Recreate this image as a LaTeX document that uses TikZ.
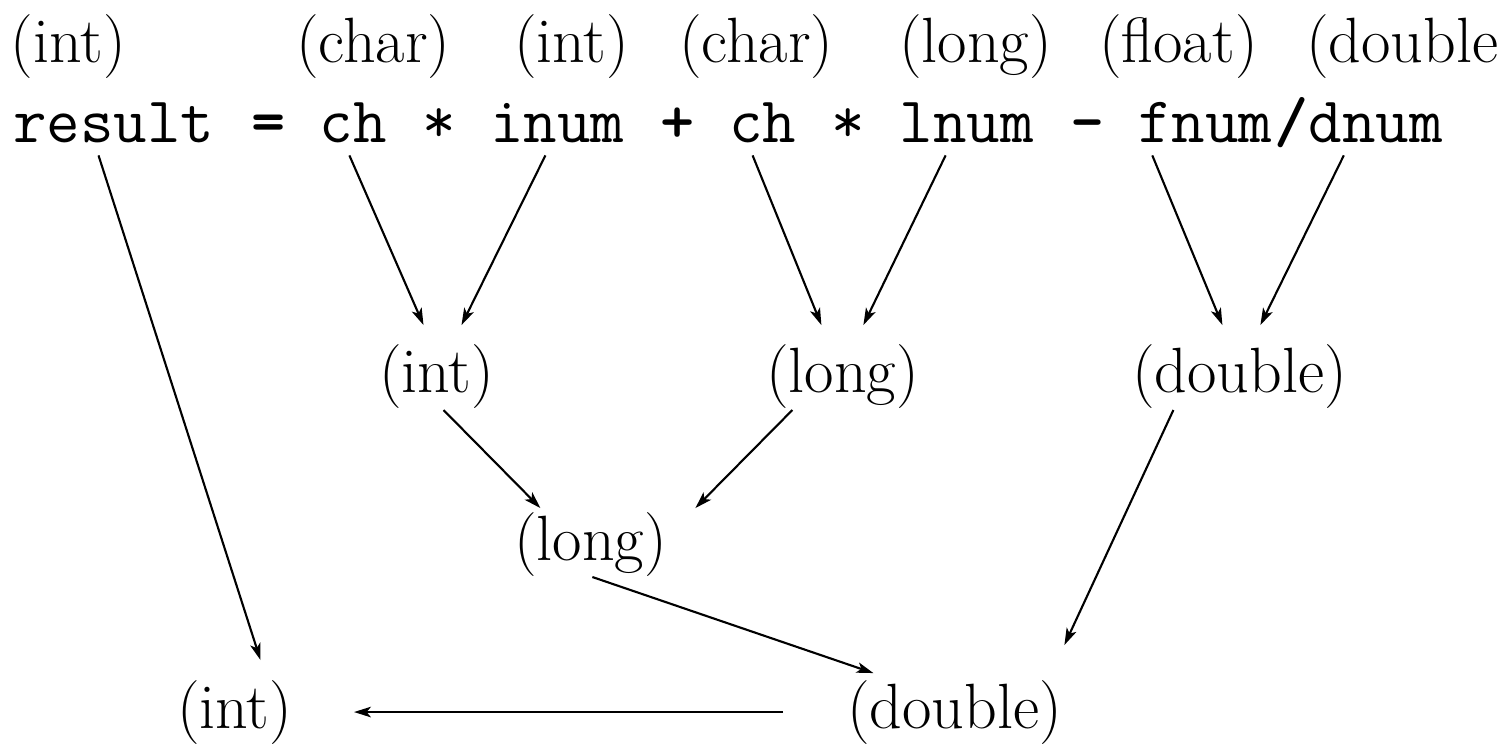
\documentclass[tikz,border=0pt]{standalone}
\usepackage{fontspec}
\usetikzlibrary{arrows.meta,calc}
\begin{document}
\begin{tikzpicture}[x=0.01cm,y=-0.01cm,
  lab/.style={inner sep=0pt, outer sep=0pt, anchor=base west, font=\fontsize{18.2pt}{20pt}\selectfont},
  tok/.style={inner sep=0pt, outer sep=0pt, anchor=base west, font=\ttfamily\fontsize{18.5pt}{20pt}\selectfont},
  optok/.style={tok, font=\ttfamily\bfseries\fontsize{18.5pt}{20pt}\selectfont},
  arr/.style={-{Stealth[length=4.8pt,width=3pt,inset=1.2pt]}, line width=0.6pt}]
\useasboundingbox (0,0) rectangle (1511,744);
% row 1 : type labels
\node[lab] (t1) at (11,62) {(int)};
\node[lab] (t2) at (296,62) {(char)};
\node[lab] (t3) at (514,62) {(int)};
\node[lab] (t4) at (679,62) {(char)};
\node[lab] (t5) at (899,62) {(long)};
\node[lab] (t6) at (1099,62) {(float)};
\node[lab] (t7) at (1306,62) {(double};
% row 2 : expression
\node[tok] (result) at (13,142) {result};
\node[optok] (eq) at (251.7,142) {=};
\node[tok] (ch1) at (319.9,142) {ch};
\node[tok] (mul1) at (422.2,142) {*};
\node[tok] (inum) at (490.4,142) {inum};
\node[optok] (plus) at (660.9,142) {+};
\node[tok] (ch2) at (729.1,142) {ch};
\node[tok] (mul2) at (831.4,142) {*};
\node[tok] (lnum) at (899.6,142) {lnum};
\node[optok] (minus) at (1070.1,142) {-};
\node[tok] (fnum) at (1138.3,142) {fnum};
\node[optok] (slash) at (1274.7,142) {/};
\node[tok] (dnum) at (1308.8,142) {dnum};
% intermediate types
\node[lab] (m1) at (379,392) {(int)};
\node[lab] (m2) at (766,392) {(long)};
\node[lab] (m3) at (1132,392) {(double)};
\node[lab] (lg) at (514,560) {(long)};
\node[lab] (bi) at (177,728) {(int)};
\node[lab] (bd) at (847,728) {(double)};
% connectors
\draw[arr] ($(ch1.south)+(-4,13)$) -- ($(m1.north)+(-13,-19)$);
\draw[arr] ($(inum.south)+(-12,13)$) -- ($(m1.north)+(25,-19)$);
\draw[arr] ($(ch2.south)+(-10,13)$) -- ($(m2.north)+(-21,-19)$);
\draw[arr] ($(lnum.south)+(-21,13)$) -- ($(m2.north)+(21,-19)$);
\draw[arr] ($(fnum.south)+(-53,13)$) -- ($(m3.north)+(-17,-19)$);
\draw[arr] ($(dnum.south)+(-32,13)$) -- ($(m3.north)+(21,-19)$);
\draw[arr] ($(m1.south)+(7,2)$) -- ($(lg.north)+(-50,-4)$);
\draw[arr] ($(m2.south)+(-50,2)$) -- ($(lg.north)+(105,-4)$);
\draw[arr] ($(m3.south)+(-66,2)$) -- ($(bd.north)+(110,-35)$);
\draw[arr] ($(lg.south)+(2,1)$) -- ($(bd.north)+(-81,-7)$);
\draw[arr] ($(result.south)+(-15,13)$) -- ($(bi.north)+(26,-20)$);
\draw[arr] ($(bd.west)+(-64,0)$) -- ($(bi.east)+(62,0)$);
\end{tikzpicture}
\end{document}
